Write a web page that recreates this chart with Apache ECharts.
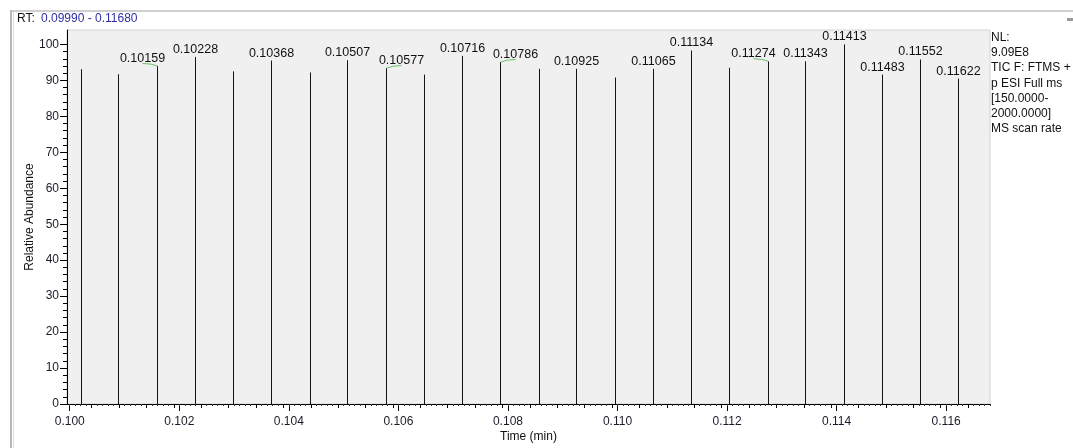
<!DOCTYPE html>
<html>
<head>
<meta charset="utf-8">
<script src="https://cdn.jsdelivr.net/npm/echarts@6/dist/echarts.min.js"></script>
<style>
  html, body { margin: 0; padding: 0; background: #fff; }
  #chart { width: 1073px; height: 448px; }
</style>
</head>
<body>
<div id="chart"></div>
<script>
// scan times (min) and relative abundance
const scanTimes = [
  0.10020, 0.10089, 0.10159, 0.10228, 0.10298, 0.10368, 0.10438, 0.10507,
  0.10577, 0.10647, 0.10716, 0.10786, 0.10856, 0.10925, 0.10995, 0.11065,
  0.11134, 0.11204, 0.11274, 0.11343, 0.11413, 0.11483, 0.11552, 0.11622,
];
const abundance = [
  93.1, 91.7, 94.0, 96.5, 92.5, 95.5, 92.2, 95.6,
  93.4, 91.6, 96.8, 95.1, 93.2, 93.2, 90.8, 93.2,
  98.3, 93.5, 95.3, 95.3, 100, 91.6, 95.8, 90.5,
];
// peaks that carry a time label
const labeledTimes = [
  0.10159, 0.10228, 0.10368, 0.10507, 0.10577, 0.10716, 0.10786, 0.10925,
  0.11065, 0.11134, 0.11274, 0.11343, 0.11413, 0.11483, 0.11552, 0.11622,
];
// labels pushed aside with a small green leader: -1 left, +1 right
const shiftedTimes = [0.10159, 0.10577, 0.10786, 0.11274];
const shiftSides = [-1, 1, 1, -1];

const xLabelTicks = [0.100, 0.102, 0.104, 0.106, 0.108, 0.110, 0.112, 0.114, 0.116];
const yLabelTicks = [0, 10, 20, 30, 40, 50, 60, 70, 80, 90, 100];

const xMin = 0.09995;
const xMax = 0.1168;

const xMidTicks = [];
const xSmallTicks = [];
for (let i = 0; i <= 170; i++) {
  const v = +(0.0999 + i * 0.0001).toFixed(4);
  if (v < xMin || v > xMax) continue;
  if (i % 5 === 0) xMidTicks.push(v);
  else xSmallTicks.push(v);
}
const yMinorTicks = [];
for (let v = 0; v <= 100; v += 2) if (v % 10 !== 0) yMinorTicks.push(v);

const FONT = '"Liberation Sans", Arial, sans-serif';

const chart = echarts.init(document.getElementById('chart'), null, { renderer: 'canvas' });

const hiddenAxis = {
  axisLine: { show: false },
  axisLabel: { show: false },
  splitLine: { show: false },
};

const option = {
  backgroundColor: '#fff',
  animation: false,
  grid: {
    left: 67, right: 83, top: 30, bottom: 44,
    outerBoundsMode: 'none', containLabel: false,
    show: true, backgroundColor: '#f0f0f0', borderColor: '#d2d2d2', borderWidth: 1,
  },
  xAxis: [
    {
      type: 'value', min: xMin, max: xMax, position: 'bottom',
      name: 'Time (min)', nameLocation: 'middle', nameGap: 27, nameMoveOverlap: false,
      nameTextStyle: { fontFamily: FONT, fontSize: 12, color: '#111' },
      axisLine: { show: true, lineStyle: { color: '#000', width: 1 } },
      axisTick: { show: true, length: 7, customValues: xLabelTicks, lineStyle: { color: '#000' } },
      axisLabel: {
        customValues: xLabelTicks, margin: 12,
        fontFamily: FONT, fontSize: 12, color: '#1a1a2a',
        formatter: (v) => Number(v).toFixed(3),
      },
      splitLine: { show: false },
    },
    Object.assign({
      type: 'value', min: xMin, max: xMax, position: 'bottom',
      axisTick: { show: true, length: 4, customValues: xMidTicks, lineStyle: { color: '#000' } },
    }, hiddenAxis),
    Object.assign({
      type: 'value', min: xMin, max: xMax, position: 'bottom',
      axisTick: { show: true, length: 2, customValues: xSmallTicks, lineStyle: { color: '#333' } },
    }, hiddenAxis),
  ],
  yAxis: [
    {
      type: 'value', min: 0, max: 104, position: 'left',
      name: 'Relative Abundance', nameLocation: 'middle', nameGap: 31, nameMoveOverlap: false,
      nameTextStyle: { fontFamily: FONT, fontSize: 12, color: '#111' },
      axisLine: { show: true, lineStyle: { color: '#000', width: 1 } },
      axisTick: { show: true, length: 7, customValues: yLabelTicks, lineStyle: { color: '#000' } },
      axisLabel: {
        customValues: yLabelTicks, margin: 8,
        fontFamily: FONT, fontSize: 12, color: '#1a1a2a',
      },
      splitLine: { show: false },
    },
    Object.assign({
      type: 'value', min: 0, max: 104, position: 'left',
      axisTick: { show: true, length: 4, customValues: yMinorTicks, lineStyle: { color: '#000' } },
    }, hiddenAxis),
  ],
  series: [
    {
      type: 'custom',
      xAxisIndex: 0,
      yAxisIndex: 0,
      data: scanTimes.map((t, i) => [t, abundance[i]]),
      renderItem: (params, api) => {
        const t = scanTimes[params.dataIndex];
        const base = api.coord([t, 0]);
        const top = api.coord([t, api.value(1)]);
        const x = Math.round(base[0]) + 0.5;
        const children = [{
          type: 'line',
          shape: { x1: x, y1: base[1], x2: x, y2: top[1] },
          style: { stroke: '#151515', lineWidth: 1 },
        }];
        const si = shiftedTimes.indexOf(t);
        const side = si >= 0 ? shiftSides[si] : 0;
        if (labeledTimes.includes(t)) {
          children.push({
            type: 'text',
            x: x + side * 15, y: top[1] - 7.5,
            style: {
              text: t.toFixed(5), align: 'center', verticalAlign: 'middle',
              font: '12.5px ' + FONT, fill: '#111',
            },
          });
        }
        if (side) {
          children.push({
            type: 'bezierCurve',
            shape: {
              x1: x, y1: top[1], x2: x + side * 15, y2: top[1] - 2.5,
              cpx1: x + side * 6, cpy1: top[1] - 2.5,
            },
            style: { stroke: '#6cc06c', fill: null, lineWidth: 1 },
          });
        }
        return { type: 'group', children };
      },
    },
  ],
  graphic: [
    // outer frame of the pane
    { type: 'rect', left: 11, top: 10, shape: { width: 1062, height: 2 }, style: { fill: '#cfcfcf' } },
    { type: 'rect', left: 10, top: 10, shape: { width: 2, height: 438 }, style: { fill: '#b8b8b8' } },
    { type: 'rect', left: 13, top: 12, shape: { width: 1, height: 436 }, style: { fill: '#dcdcdc' } },
    { type: 'rect', left: 1067, top: 18, shape: { width: 6, height: 3 }, style: { fill: '#9a9a9a' } },
    {
      type: 'text', left: 17, top: 13,
      style: { text: 'RT:', font: '12px ' + FONT, fill: '#111' },
    },
    {
      type: 'text', left: 41, top: 13,
      style: { text: '0.09990 - 0.11680', font: '12px ' + FONT, fill: '#2f2fa6' },
    },
    {
      type: 'text', left: 991, top: 30,
      style: {
        text: 'NL:\n9.09E8\nTIC F: FTMS +\np ESI Full ms\n[150.0000-\n2000.0000]\nMS scan rate',
        font: '12px ' + FONT, fill: '#111', lineHeight: 15.2,
      },
    },
  ],
};

chart.setOption(option);
</script>
</body>
</html>
